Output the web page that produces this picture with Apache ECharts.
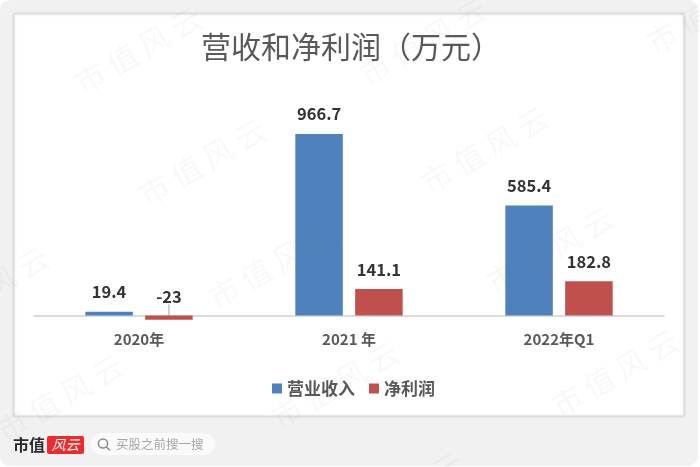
<!DOCTYPE html>
<html><head><meta charset="utf-8">
<style>html,body{margin:0;padding:0;background:#fff}#c{width:700px;height:467px}</style>
<script src="https://cdn.jsdelivr.net/npm/echarts@6/dist/echarts.min.js"></script>
</head><body><div id="c"></div>
<script>
const categories = ['2020年', '2021 年', '2022年Q1'];
const revenue = [19.4, 966.7, 585.4];
const profit = [-23, 141.1, 182.8];
const seriesNames = ['营业收入', '净利润'];
const chartTitle = '营收和净利润（万元）';
const watermarkText = '市值风云';
const watermarkCenters = [[138,50],[202,162],[423,42],[485,150],[710,10],[-15,290],[272,265],[550,250],[615,373],[60,398],[335,385],[400,495],[130,510]];
const font = '"Noto Sans CJK SC","Noto Sans",sans-serif';

const chart = echarts.init(document.getElementById('c'), null, {renderer:'canvas'});
const graphics = [
  {type:'rect', z:-20, shape:{x:0,y:0,width:698,height:466,r:10}, style:{fill:'#f1f1f1'}},
  {type:'rect', z:-19, shape:{x:14,y:14,width:670,height:402}, style:{fill:'#fff',stroke:'#d9d9d9',lineWidth:1,shadowBlur:3,shadowColor:'rgba(0,0,0,0.12)'}},
  {type:'text', z:5, x:13, y:445, style:{text:'市值',font:'bold 16px '+font,fill:'#2b2b2b',textVerticalAlign:'middle'}},
  {type:'rect', z:5, shape:{x:47,y:436,width:37,height:18,r:2}, style:{fill:'#ee2a2e'}},
  {type:'text', z:6, x:65.5, y:445, style:{text:'风云',font:'italic 14px '+font,fill:'#fff',textAlign:'center',textVerticalAlign:'middle'}},
  {type:'rect', z:5, shape:{x:91,y:433,width:124,height:22,r:11}, style:{fill:'#fafafa'}},
  {type:'circle', z:6, shape:{cx:103,cy:443.5,r:4.6}, style:{fill:'none',stroke:'#8c8c8c',lineWidth:1.5}},
  {type:'line', z:6, shape:{x1:106.5,y1:447,x2:110,y2:450.5}, style:{stroke:'#8c8c8c',lineWidth:1.5}},
  {type:'text', z:6, x:116, y:444, style:{text:'买股之前搜一搜',font:'12.5px '+font,fill:'#a6a6a6',textVerticalAlign:'middle'}}
];
watermarkCenters.forEach(c => graphics.push({
  type:'text', z:50, silent:true, x:c[0], y:c[1], rotation:Math.PI*30/180,
  style:{text:watermarkText.split('').join(' '),font:'30px '+font,fill:'rgba(120,120,120,0.05)',textAlign:'center',textVerticalAlign:'middle'}
}));

const labelStyle = {show:true, position:'top', distance:11.5, fontFamily:font, fontSize:16.5, fontWeight:'bold', color:'#333'};
chart.setOption({
  animation:false,
  backgroundColor:'#fff',
  title:{text:chartTitle,left:346,top:27,textAlign:'center',textStyle:{fontFamily:font,fontSize:30,fontWeight:'normal',color:'#595959'}},
  legend:{bottom:65,left:267,itemWidth:10,itemHeight:10,itemGap:14,icon:'rect',
    textStyle:{fontFamily:font,fontSize:17,fontWeight:'bold',color:'#595959'}},
  grid:{left:34,width:630,top:127.7,height:206.6,containLabel:false},
  xAxis:{type:'category',data:categories,axisTick:{show:false},
    axisLine:{show:true,onZero:true,lineStyle:{color:'#d0d0d0',width:1.5}},
    axisLabel:{margin:-3,fontFamily:font,fontSize:15,fontWeight:'bold',color:'#595959'}},
  yAxis:{type:'value',min:-100,max:1000,interval:100,show:false,splitLine:{show:false}},
  series:[
    {name:seriesNames[0],type:'bar',data:revenue,barWidth:47.5,barGap:'26%',itemStyle:{color:'#4f81bd'},label:labelStyle},
    {name:seriesNames[1],type:'bar',
     data:profit.map(v => v < 0 ? {value:v,labelLine:{show:true,lineStyle:{color:'#a6a6a6',width:1}}} : v),
     barWidth:47.5,itemStyle:{color:'#c0504d'},
     label:labelStyle,
     labelLayout:function(p){ return p.dataIndex===0 ? {dy:0.5} : {}; }}
  ],
  graphic:graphics
});
</script></body></html>
